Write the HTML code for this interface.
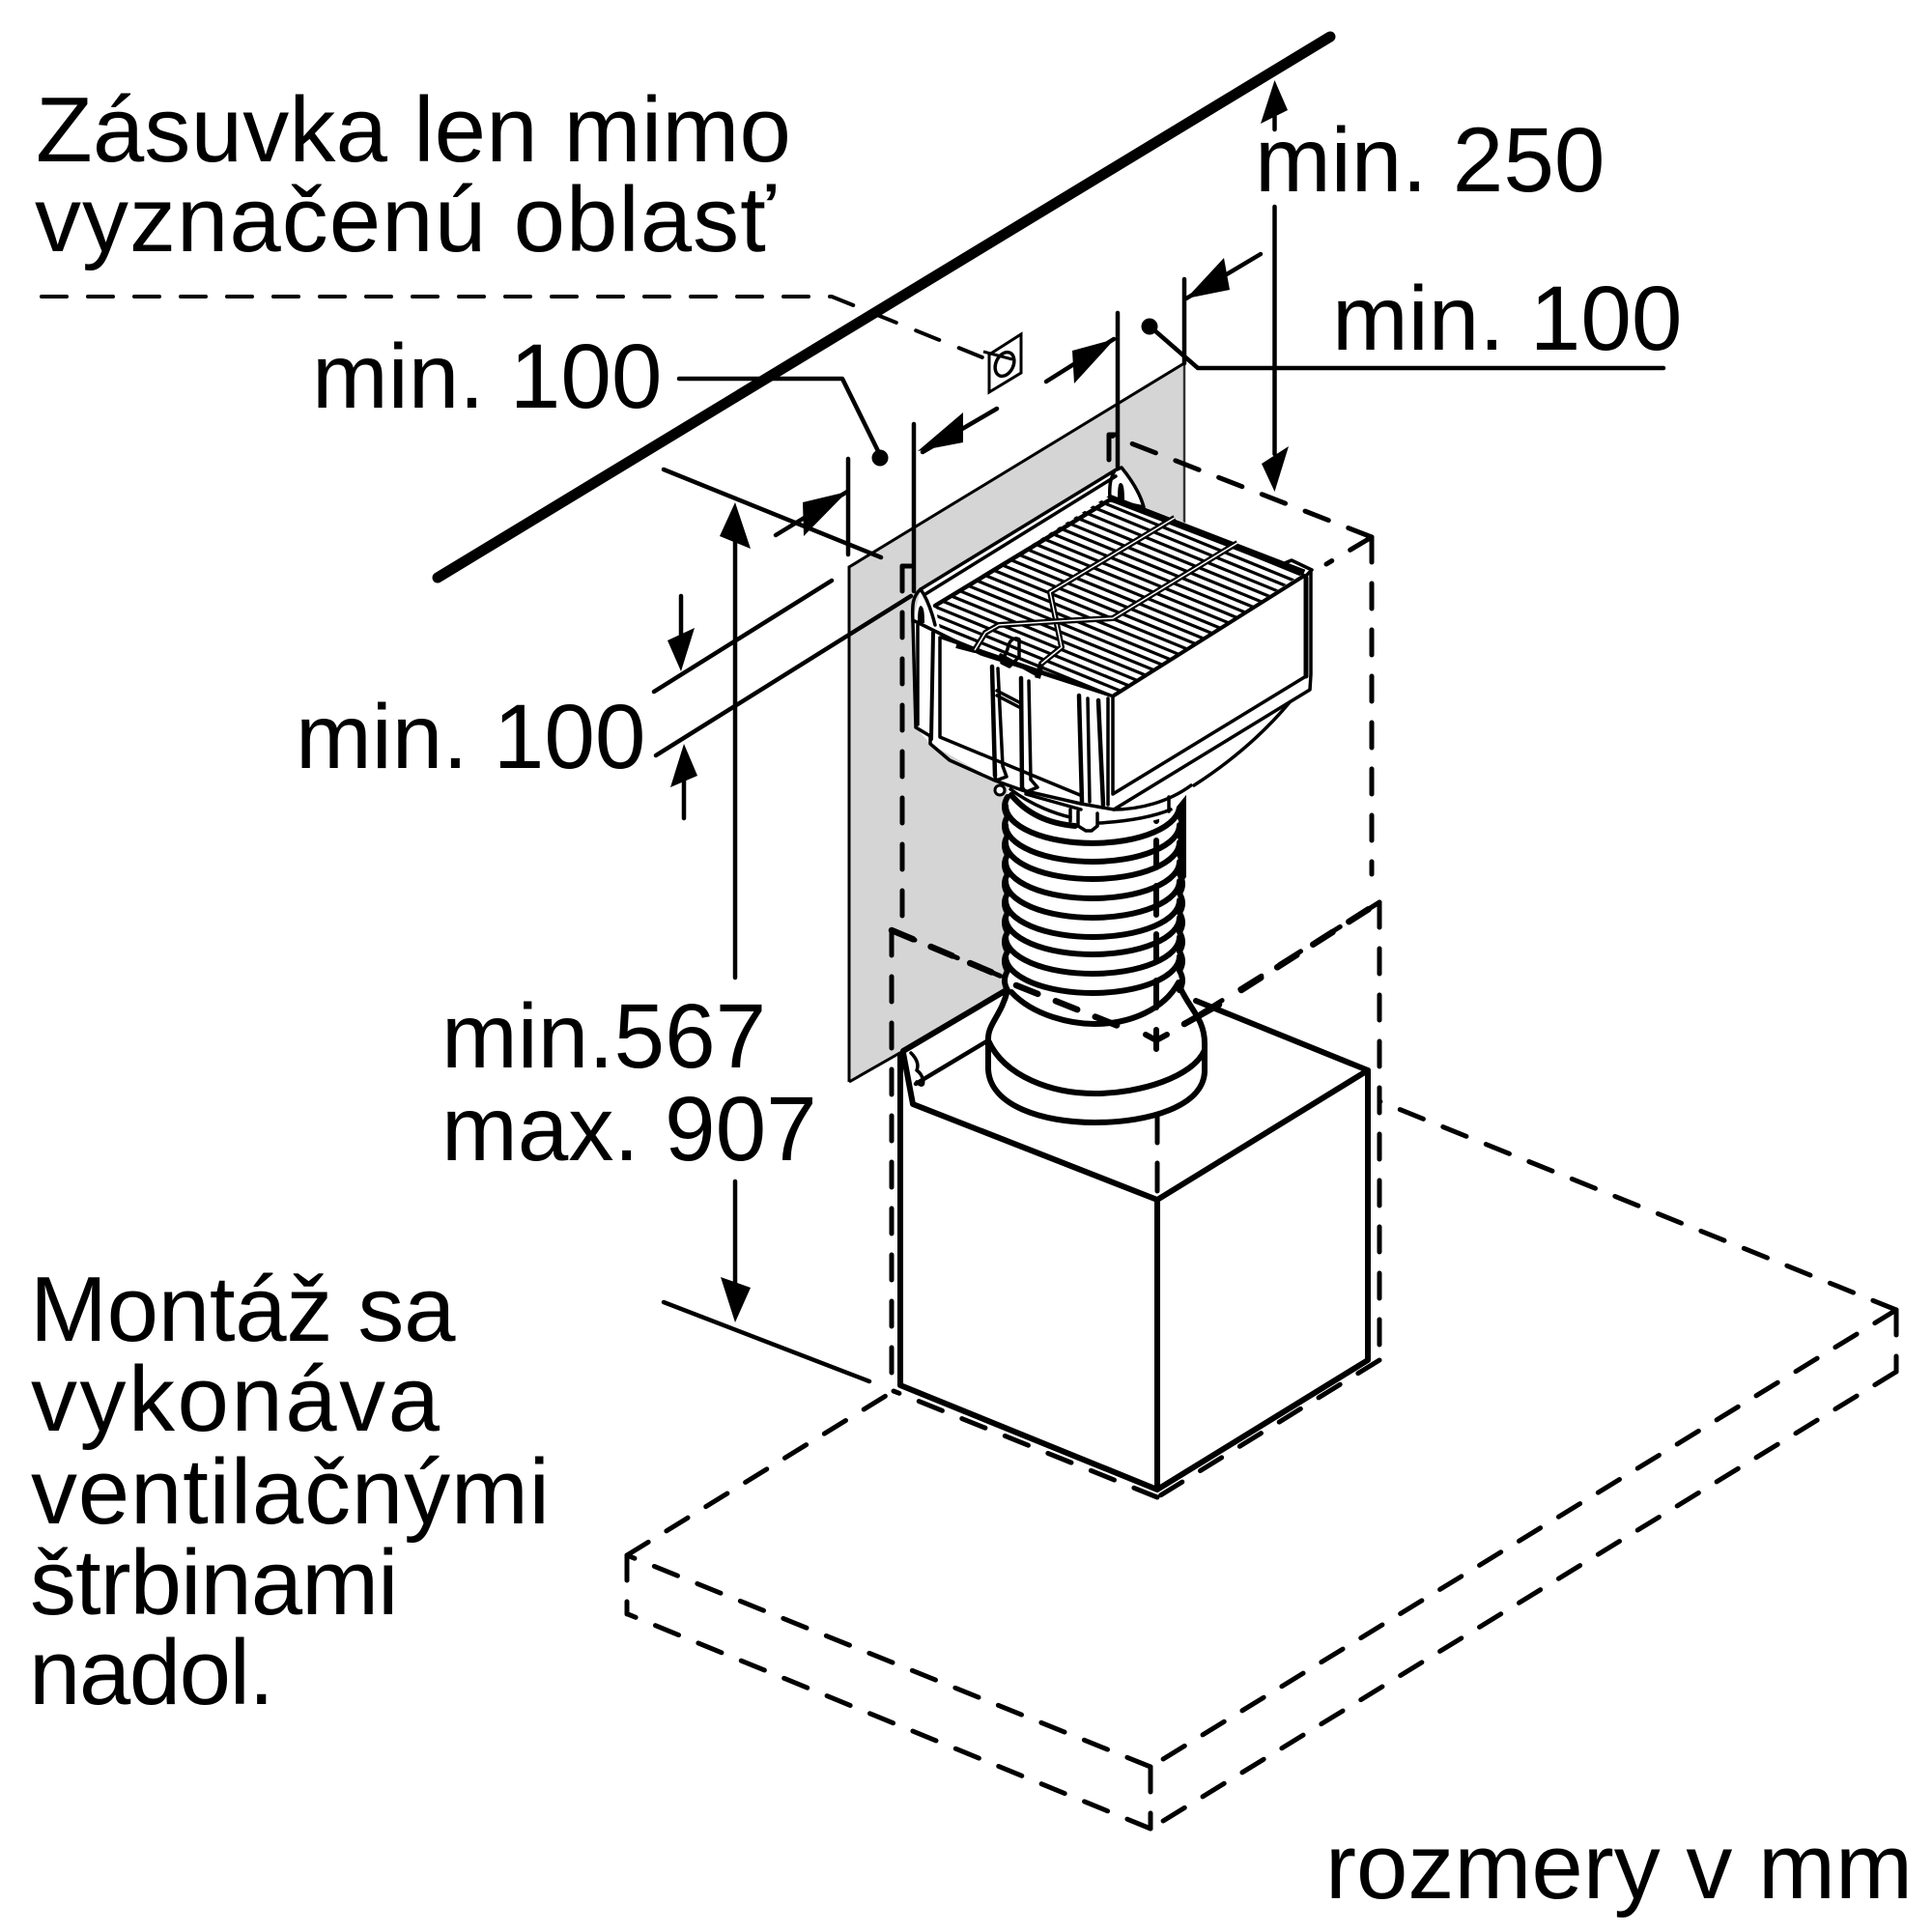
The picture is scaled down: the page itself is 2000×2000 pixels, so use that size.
<!DOCTYPE html>
<html><head><meta charset="utf-8"><style>
html,body{margin:0;padding:0;background:#fff}
svg{display:block}
text{font-family:"Liberation Sans",Arial,sans-serif;font-size:96px;fill:#000;font-kerning:none}
.n{font-size:94.5px}
.d{fill:none;stroke:#000;stroke-width:5;stroke-dasharray:26 22;stroke-linecap:round}
.b{stroke-width:6.5}
.s{fill:none;stroke:#000;stroke-width:4.5;stroke-linecap:round;stroke-linejoin:round}
.m{fill:none;stroke:#000;stroke-width:3.5;stroke-linecap:round;stroke-linejoin:round}
.t{fill:none;stroke:#000;stroke-width:6;stroke-linecap:round;stroke-linejoin:round}
.k{fill:#000;stroke:none}
</style></head><body>
<svg xmlns="http://www.w3.org/2000/svg" width="2000" height="2000" viewBox="0 0 2000 2000">
<rect width="2000" height="2000" fill="#fff"/>
<defs><clipPath id="c"><polygon points="1148,513 1350,593 1153,720 975,660 968,627"/></clipPath></defs>

<!-- grey panel -->
<polygon points="879,587 1226,376 1226,560 1060,800 1040,1026 879,1120" fill="#d5d5d5"/>
<path fill="none" stroke="#333" stroke-width="2.5" d="M1226 376V545"/>
<path fill="none" stroke="#000" stroke-width="3" d="M879 1120V587L1226 376M879 1120L935 1088"/>
<path class="t" d="M935 1088L1040 1026"/>

<!-- wall -->
<line x1="453" y1="598" x2="1377" y2="38" stroke="#000" stroke-width="11" stroke-linecap="round"/>

<!-- socket -->
<path class="d" d="M43 307H861L1022 372" style="stroke-width:4"/>
<polygon points="1024,367 1057,346 1057,386 1024,406" fill="#fff" stroke="#000" stroke-width="3"/>
<ellipse cx="1040" cy="377" rx="9" ry="13" transform="rotate(25 1040 377)" fill="none" stroke="#000" stroke-width="3.5"/>
<line x1="1018" y1="364" x2="1048" y2="372" stroke="#000" stroke-width="3"/>

<!-- labels -->
<text x="37" y="167" letter-spacing="0.2">Zásuvka len mimo</text>
<text x="36" y="260" letter-spacing="1">vyznačenú oblasť</text>
<text class="n" x="323" y="422">min. 100</text>
<text class="n" x="306" y="795">min. 100</text>
<text class="n" x="457" y="1105">min.567</text>
<text class="n" x="457" y="1201">max. 907</text>
<text x="31" y="1388" letter-spacing="-0.3">Montáž sa</text>
<text x="32" y="1481" letter-spacing="2.5">vykonáva</text>
<text x="32" y="1577" letter-spacing="0.8">ventilačnými</text>
<text x="31" y="1671" letter-spacing="-1">štrbinami</text>
<text x="30" y="1764" letter-spacing="-1.5">nadol.</text>
<text class="n" x="1299" y="198">min. 250</text>
<text class="n" x="1379" y="362">min. 100</text>
<text x="1372" y="1965">rozmery v mm</text>

<!-- leaders and dims -->
<path class="s" d="M703 392H872L909 467"/>
<circle cx="911" cy="474" r="8.5"/>
<path class="s" d="M1194 341L1240 381H1722"/>
<circle cx="1190" cy="338" r="8.5"/>
<path class="s" d="M878 475V574M946 439V612M1157 324V485M1226 289V376"/>
<path class="s" d="M687 486L912 577M687 1348L900 1430M677 716L861 601M679 782L943 617"/>
<path class="s" d="M803 554L877 509"/>
<polygon class="k" points="877,509 831,520 832,555"/>
<path class="s" d="M955 468L1032 423"/>
<polygon class="k" points="950,467 997,427 997,458"/>
<path class="s" d="M1083 395L1153 351"/>
<polygon class="k" points="1154,351 1110,363 1112,397"/>
<path class="s" d="M1228 309L1305 263"/>
<polygon class="k" points="1228,309 1267,267 1273,300"/>
<path class="s" d="M761 560V1012M761 1223V1330"/>
<polygon class="k" points="761,520 745,555 777,568"/>
<polygon class="k" points="761,1369 746,1322 777,1333"/>
<path class="s" d="M705 617V670M708 847V805"/>
<polygon class="k" points="705,695 691,663 719,650"/>
<polygon class="k" points="708,770 694,815 722,803"/>
<path class="s" d="M1319.5 120V134M1319.5 214V470"/>
<polygon class="k" points="1319.5,83 1305,128 1333,114"/>
<polygon class="k" points="1319.5,509 1306,480 1334,462"/>

<!-- dashed envelope (upper) -->
<path class="d" d="M1420 556L1148 450"/>
<path class="d" d="M1420 556V905"/>
<path class="d" d="M1420 556L1373 584"/>
<path class="d" d="M1148 450V482"/>
<path class="d" d="M1149 450H1156" style="stroke-dasharray:none"/>
<path class="d" d="M934 586V950"/>
<path class="d" d="M934 586H943" style="stroke-dasharray:none"/>

<!-- box -->
<polygon points="947,1142 1198,1242 1416,1108 1416,1408 1198,1542 932,1434 932,1092" fill="#fff"/>
<path class="t" d="M932 1092V1434L1198 1542V1242M1198 1542L1416 1408V1108L1198 1242L945 1143L935 1090"/>
<path class="t" d="M1416 1108L1238 1036"/>
<path class="s" d="M948 1122L1023 1077"/>
<path class="m" d="M943 1090C950 1097 951 1103 949 1108C958 1114 958 1130 949 1120"/>

<!-- lower dashed -->
<path class="d" d="M923 963V1433"/>
<path class="d" d="M923 963L1042 1013"/>
<path class="d" d="M1428 934L1226 1060"/>
<path class="d" d="M1428 934V1408"/>
<path class="d" d="M1428 1408L1198 1550"/>
<path class="d" d="M1198 1550L925 1440"/>
<path class="d" d="M1198 1233V1204M1198 1183V1156M1198 1136V1108" style="stroke-dasharray:none"/>
<path class="d" d="M1963 1356L1428 1140"/>
<path class="d" d="M1963 1356V1420"/>
<path class="d" d="M1963 1356L1191 1829"/>
<path class="d" d="M1963 1420L1191 1893"/>
<path class="d" d="M1191 1829V1893"/>
<path class="d" d="M1191 1829L649 1610"/>
<path class="d" d="M1191 1893L650 1671"/>
<path class="d" d="M649 1610V1671"/>
<path class="d" d="M649 1610L925 1440"/>

<!-- duct -->
<path d="M1043 815H1220L1224 1025C1232 1045 1247 1055 1247 1080V1110C1247 1170 1023 1180 1023 1107V1073C1023 1060 1035 1050 1043 1025Z" fill="#fff"/>
<g fill="none" stroke="#000" stroke-width="6" stroke-linecap="round" stroke-linejoin="round">
<path d="M1047 823C1065 845 1090 853 1113 855"/>
<path d="M1041 834A88 38 0 0 0 1221 834"/>
<path d="M1041 854A90 38 0 0 0 1221 854"/>
<path d="M1041 872A90 38 0 0 0 1221 872"/>
<path d="M1041 892A90 38 0 0 0 1221 892"/>
<path d="M1041 912A90 38 0 0 0 1221 912"/>
<path d="M1041 932A90 38 0 0 0 1221 932"/>
<path d="M1041 950A90 38 0 0 0 1221 950"/>
<path d="M1041 970A90 38 0 0 0 1221 970"/>
<path d="M1041 990A90 38 0 0 0 1221 990"/>
<path d="M1047 1027C1070 1052 1110 1060 1133 1060C1170 1060 1205 1045 1220 1017"/>
<path d="M1043 825q-6 10 0 20q-6 10 0 20q-6 10 0 20q-6 10 0 20q-6 10 0 20q-6 10 0 20q-6 10 0 20q-6 10 0 20q-6 10 0 20q-6 10 0 20C1037 1050 1023 1060 1023 1075V1107C1025 1145 1080 1162 1133 1162C1190 1162 1245 1145 1247 1110V1080C1247 1055 1232 1045 1222 1023"/>
<path d="M1221 825q6 10 0 20q6 10 0 20q6 10 0 20q6 10 0 20q6 10 0 20q6 10 0 20q6 10 0 20q6 10 0 20q6 10 0 20q6 10 0 20"/>
<path d="M1023 1077C1040 1115 1090 1132 1133 1132C1180 1132 1235 1115 1247 1087"/>
<path d="M1225 820V907"/>
<path d="M1197 843V850M1197 870V898M1197 917V947M1197 967V995M1197 1015V1043"/>
</g>
<path class="t" d="M1186 1071L1197 1077L1208 1071M1197 1066V1086"/>
<path class="d b" d="M1052 1020L1165 1065" style="stroke-dasharray:24 20"/>
<path class="d b" d="M1226 1060L1262 1040" style="stroke-dasharray:none"/>
<path class="d b" d="M1285 1025L1428 934" style="stroke-dasharray:24 20"/>
<path class="d b" d="M923 963L1035 1010" style="stroke-dasharray:24 20"/>

<!-- filter body -->
<path d="M953 610L1154 487L1161 484L1172 497L1184 525L1358 590V703L1356 714L1335 727Q1295 775 1236 813L1210 845L1170 856L1119 847L1062 822L1030 808L963 770L948 753L945 643Z" fill="#fff"/>
<path class="m" d="M1335 727Q1295 775 1236 813"/>
<path class="m" d="M1046 817C1070 835 1095 843 1108 846M1138 852C1170 850 1195 845 1212 838M1153 838C1180 838 1210 830 1233 813"/>
<path class="m" d="M1108 838V850M1136 842V855M1116 840V855L1124 860H1130L1136 855"/>
<path class="m" d="M1210 840V825M1062 822L1119 838"/>
<circle cx="1035" cy="818" r="5" fill="#fff" stroke="#000" stroke-width="3"/>

<g clip-path="url(#c)"><path fill="none" stroke="#000" stroke-width="3.2" d="M1148 505l260 106m-268.9-100.7l260 106m-268.9-100.7l260 106m-268.9-100.7l260 106m-268.9-100.7l260 106m-268.9-100.7l260 106m-268.9-100.7l260 106m-268.9-100.7l260 106m-268.9-100.7l260 106m-268.9-100.7l260 106m-268.9-100.7l260 106m-268.9-100.7l260 106m-268.9-100.7l260 106m-268.9-100.7l260 106m-268.9-100.7l260 106m-268.9-100.7l260 106m-268.9-100.7l260 106m-268.9-100.7l260 106m-268.9-100.7l260 106m-268.9-100.7l260 106m-268.9-100.7l260 106m-268.9-100.7l260 106m-268.9-100.7l260 106m-268.9-100.7l260 106m-268.9-100.7l260 106m-268.9-100.7l260 106"/></g>

<!-- filter outlines -->
<path fill="none" stroke="#000" stroke-width="7" d="M1148 515L1350 593"/>
<path class="t" d="M1153 720L1350 596" style="stroke-width:4"/>
<path class="m" d="M1152 722V822L1352 700V596"/>
<path class="t" d="M1352 598V700" style="stroke-width:5"/>
<path class="m" d="M1357 590V698L1356 714L1153 838L1119 832L1058 818L1030 808L983 787L963 770V762L948 753L945 643"/>
<path class="m" d="M1325 585L1337 580L1358 590L1352 596"/>
<path class="t" d="M968 627L1148 518" style="stroke-width:4.5"/>
<path class="m" d="M953 610L1154 487M958 615L1155 493"/>
<path class="m" d="M945 643C944 625 945 617 953 610M953 610C960 620 965 635 968 647M1154 487L1161 484C1170 495 1180 510 1184 525L1150 518M1149 518C1148 500 1150 495 1154 487"/>
<path class="k" d="M950 645C950 632 951 628 953 627C956 628 957 632 957 645Z"/>
<path class="k" d="M1157 517C1157 503 1158 500 1160 500C1163 500 1164 505 1164 520Z"/>
<path class="m" d="M947 643L1016 677L1150 720M975 660L1150 720"/>
<path class="m" d="M950 647V750M973 660V763L1118 823"/>
<path class="t" d="M966 655L964 765" style="stroke-width:4"/>
<path class="t" d="M1027 690L1030 803M1057 702L1058 815" style="stroke-width:4.5"/>
<path class="m" d="M1033 692L1038 793M1065 705L1067 807M1032 715L1055 727M1032 720L1055 732M1030 803L1031 808L1042 804L1038 793M1058 815L1062 820L1074 815L1067 807"/>
<path class="t" d="M1117 720L1120 830M1137 725L1142 833" style="stroke-width:4.5"/>
<path class="m" d="M1126 723L1128 830M1147 723V833"/>
<path class="m" d="M1043 672C1045 660 1052 660 1055 662V680L1045 690L1037 686Z" fill="#fff"/>
<path class="m" d="M1036 678L1072 698"/>
<!-- straps -->
<path d="M1216 536L1087 613L1099 670L1078 687L1074 702" fill="none" stroke="#000" stroke-width="6" stroke-linejoin="round"/>
<path d="M1216 536L1087 613L1099 670L1078 687" fill="none" stroke="#fff" stroke-width="1.5" stroke-linejoin="round"/>
<path d="M1281 562L1152 640L1097 643L1034 647L1020 655L1009 673L990 668" fill="none" stroke="#000" stroke-width="6" stroke-linejoin="round"/>
<path d="M1281 562L1152 640L1097 643L1034 647L1020 655L1009 673" fill="none" stroke="#fff" stroke-width="1.5" stroke-linejoin="round"/>
</svg>
</body></html>
